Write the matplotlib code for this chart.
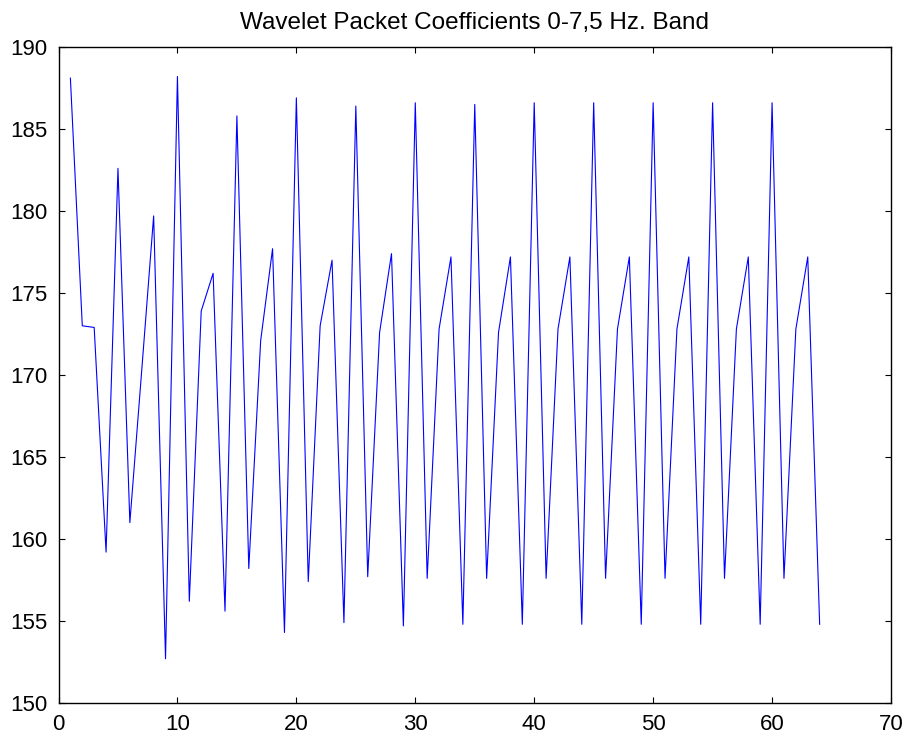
import numpy as np
import matplotlib.pyplot as plt

plt.rcParams['font.family'] = ['Liberation Sans', 'DejaVu Sans']

# coefficient index and value
idx = np.arange(1, 65)
coef = [188.1, 173.0, 172.9, 159.2, 182.6, 161.0, 170.3, 179.7, 152.7, 188.2,
        156.2, 173.9, 176.2, 155.6, 185.8, 158.2, 172.1, 177.7, 154.3, 186.9,
        157.4, 173.0, 177.0, 154.9, 186.4, 157.7, 172.6, 177.4, 154.7, 186.6,
        157.6, 172.8, 177.2, 154.8, 186.5, 157.6, 172.6, 177.2, 154.8, 186.6,
        157.6, 172.8, 177.2, 154.8, 186.6, 157.6, 172.8, 177.2, 154.8, 186.6,
        157.6, 172.8, 177.2, 154.8, 186.6, 157.6, 172.8, 177.2, 154.8, 186.6,
        157.6, 172.8, 177.2, 154.8]

fig = plt.figure(figsize=(9.07, 7.4), dpi=100)
ax = fig.add_axes([58.5/907, 1 - 703/740, (891 - 58.5)/907, (703 - 47)/740])

ax.plot(idx, coef, color='#0000ff', linewidth=0.8)

ax.set_xlim(0, 70)
ax.set_ylim(150, 190)
ax.set_xticks(np.arange(0, 71, 10))
ax.set_yticks(np.arange(150, 191, 5))
ax.tick_params(direction='in', top=True, right=True, length=4, width=0.8,
               labelsize=16, pad=8)
for s in ax.spines.values():
    s.set_linewidth(1.0)

ax.set_title('Wavelet Packet Coefficients 0-7,5 Hz. Band', fontsize=17.5, pad=13)

fig.savefig('out.png', dpi=100)
